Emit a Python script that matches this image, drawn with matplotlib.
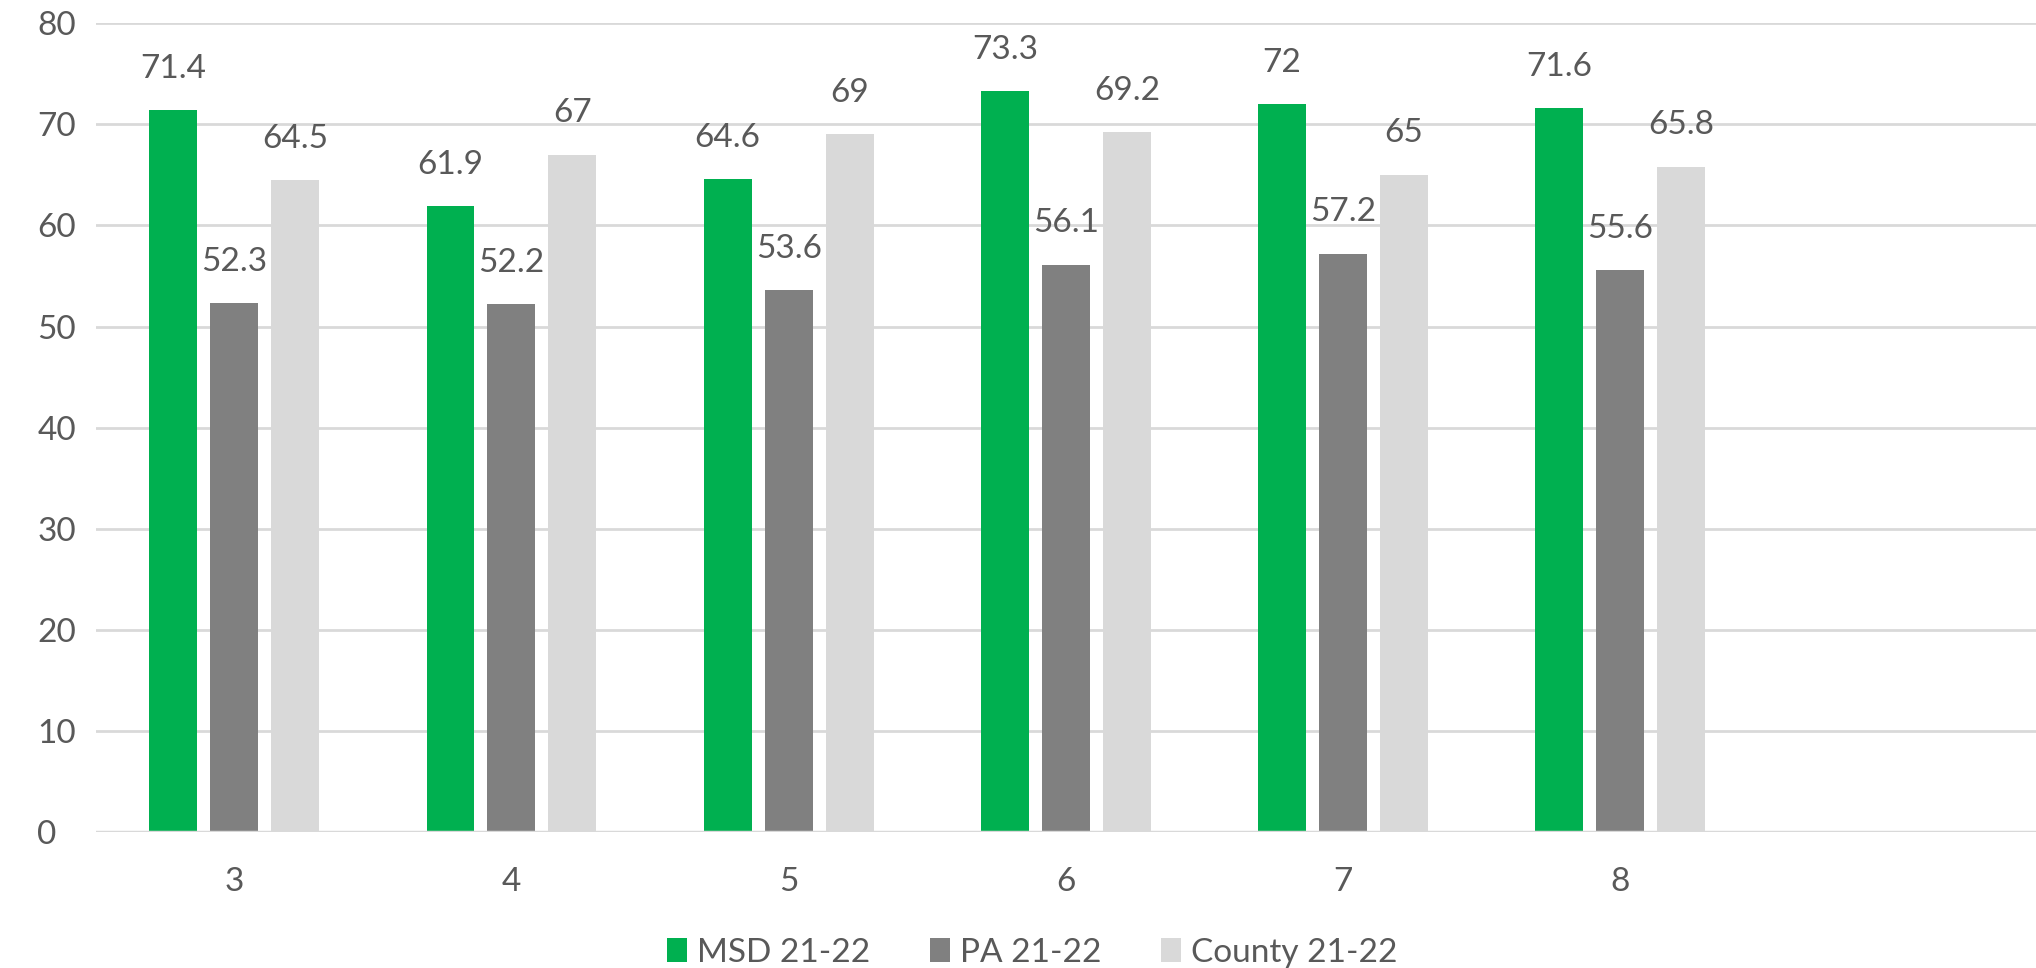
import matplotlib
matplotlib.use("Agg")
import matplotlib.pyplot as plt
import numpy as np

# 数据
grades = ["3", "4", "5", "6", "7", "8", ""]
msd = [71.4, 61.9, 64.6, 73.3, 72, 71.6]
pa = [52.3, 52.2, 53.6, 56.1, 57.2, 55.6]
county = [64.5, 67, 69, 69.2, 65, 65.8]
series_names = ["MSD 21-22", "PA 21-22", "County 21-22"]
colors = ["#00B050", "#808080", "#D9D9D9"]
y_ticks = [0, 10, 20, 30, 40, 50, 60, 70, 80]

plt.rcParams["font.family"] = ["Lato", "DejaVu Sans"]
text_color = "#595959"
fs = 24

fig = plt.figure(figsize=(20.36, 9.68), dpi=100)
ax = fig.add_axes([0.047, 0.1405, 0.953, 0.8355])

x = np.arange(len(msd))
width = 0.173
step = 0.22

for i, (vals, name, c) in enumerate(zip([msd, pa, county], series_names, colors)):
    pos = x + (i - 1) * step
    bars = ax.bar(pos, vals, width=width, color=c, label=name, zorder=3)
    for b, v in zip(bars, vals):
        ax.annotate(f"{v:g}", (b.get_x() + b.get_width() / 2, v),
                    xytext=(0, 19), textcoords="offset points",
                    ha="center", va="bottom", fontsize=fs, color=text_color)

ax.set_xlim(-0.5, len(grades) - 0.5)
ax.set_ylim(0, 80)
ax.set_xticks(np.arange(len(grades)))
ax.set_xticklabels(grades)
ax.set_yticks(y_ticks)
ax.tick_params(axis="both", length=0, labelsize=fs, colors=text_color)
ax.tick_params(axis="x", pad=25)
ax.tick_params(axis="y", pad=42)
for lab in ax.get_yticklabels():
    lab.set_horizontalalignment("left")

for s in ax.spines.values():
    s.set_visible(False)
ax.grid(axis="y", color="#D9D9D9", linewidth=2, zorder=0)
ax.axhline(0, color="#D9D9D9", linewidth=2.5, zorder=4)

fig.legend(loc="center", bbox_to_anchor=(0.507, 0.016), ncol=3, frameon=False,
           fontsize=fs, labelcolor=text_color, handlelength=0.6, handleheight=0.7,
           handletextpad=0.3, columnspacing=1.8)

fig.savefig("out.png", dpi=100)
